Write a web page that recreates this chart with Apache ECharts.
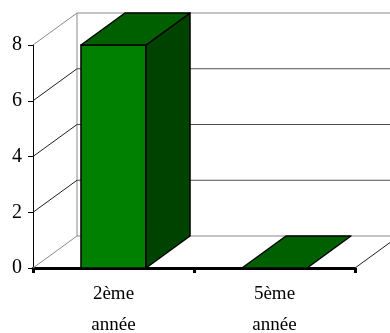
<!DOCTYPE html>
<html>
<head>
<meta charset="utf-8">
<script src="https://cdn.jsdelivr.net/npm/echarts@6/dist/echarts.min.js"></script>
<style>
  html, body { margin: 0; padding: 0; background: #ffffff; }
  #chart { width: 390px; height: 333px; }
</style>
</head>
<body>
<div id="chart"></div>
<script>
// Number of pupils per class level
const categories = ['2ème année', '5ème année'];
const values = [8, 0];
const yTicks = [0, 2, 4, 6, 8];

// Pseudo-3D depth offset (pixels) for walls and bar tops
const DX = 44, DY = -32;
const FRONT = '#008000', TOP = '#006000', SIDE = '#004200';

const chart = echarts.init(document.getElementById('chart'), null, { renderer: 'canvas' });

function wallItem(params, api) {
  const cs = params.coordSys;
  const v = api.value(1);
  const y = api.coord([0, v])[1];
  const left = cs.x, right = cs.x + cs.width;
  const edge = (v === yTicks[0] || v === yTicks[yTicks.length - 1]);
  const color = edge ? '#8a8a8a' : '#202020';
  const children = [
    { type: 'line', shape: { x1: left, y1: y, x2: left + DX, y2: y + DY },
      style: { stroke: color, lineWidth: 1 } },
    { type: 'line', shape: { x1: left + DX, y1: y + DY, x2: right + DX, y2: y + DY },
      style: { stroke: edge ? '#8a8a8a' : '#505050', lineWidth: 1 } }
  ];
  if (v === yTicks[0]) {
    const yTop = api.coord([0, yTicks[yTicks.length - 1]])[1];
    children.push({ type: 'line', shape: { x1: left + DX, y1: y + DY, x2: left + DX, y2: yTop + DY },
      style: { stroke: '#8a8a8a', lineWidth: 1 } });
    children.push({ type: 'line', shape: { x1: right, y1: y, x2: right + DX, y2: y + DY },
      style: { stroke: '#202020', lineWidth: 1 } });
  }
  return { type: 'group', children: children };
}

function barItem(params, api) {
  const cat = api.value(0), v = api.value(1);
  const top = api.coord([cat, v]);
  const base = api.coord([cat, 0]);
  const w = api.size([1, 0])[0] * 0.404;
  const x0 = top[0] - w / 2, x1 = top[0] + w / 2;
  const yT = top[1], yB = base[1];
  const stroke = { stroke: '#000000', lineWidth: 1.5, lineJoin: 'round' };
  const children = [];
  if (yB - yT > 0.5) {
    children.push({ type: 'polygon',
      shape: { points: [[x0, yT], [x1, yT], [x1, yB], [x0, yB]] },
      style: Object.assign({ fill: FRONT }, stroke) });
    children.push({ type: 'polygon',
      shape: { points: [[x1, yT], [x1 + DX, yT + DY], [x1 + DX, yB + DY], [x1, yB]] },
      style: Object.assign({ fill: SIDE }, stroke) });
  }
  children.push({ type: 'polygon',
    shape: { points: [[x0, yT], [x1, yT], [x1 + DX, yT + DY], [x0 + DX, yT + DY]] },
    style: Object.assign({ fill: TOP }, stroke) });
  return { type: 'group', children: children };
}

chart.setOption({
  animation: false,
  backgroundColor: '#ffffff',
  grid: { left: 33, right: 35, top: 45, bottom: 65, containLabel: false, outerBoundsMode: 'none' },
  xAxis: {
    type: 'category',
    data: categories,
    boundaryGap: true,
    axisLine: { show: true, lineStyle: { color: '#000000', width: 3 } },
    axisTick: { show: true, length: 5, lineStyle: { color: '#000000', width: 3 } },
    axisLabel: {
      fontFamily: 'Liberation Serif', fontSize: 19, color: '#000000',
      lineHeight: 31, margin: 11,
      formatter: function (s) { return s.replace(' ', '\n'); }
    },
    splitLine: { show: false }
  },
  yAxis: {
    type: 'value',
    min: 0, max: 8, interval: 2,
    axisLine: { show: true, lineStyle: { color: '#000000', width: 1 } },
    axisTick: { show: true, length: 5, lineStyle: { color: '#000000', width: 1 } },
    axisLabel: { fontFamily: 'Liberation Serif', fontSize: 20, color: '#000000', margin: 11 },
    splitLine: { show: false }
  },
  series: [
    {
      type: 'custom',
      z: 1,
      renderItem: wallItem,
      encode: { x: 0, y: 1 },
      data: yTicks.map(function (t) { return [0, t]; }),
      silent: true
    },
    {
      type: 'custom',
      z: 3,
      renderItem: barItem,
      encode: { x: 0, y: 1 },
      data: values.map(function (v, i) { return [i, v]; })
    }
  ]
});
</script>
</body>
</html>
